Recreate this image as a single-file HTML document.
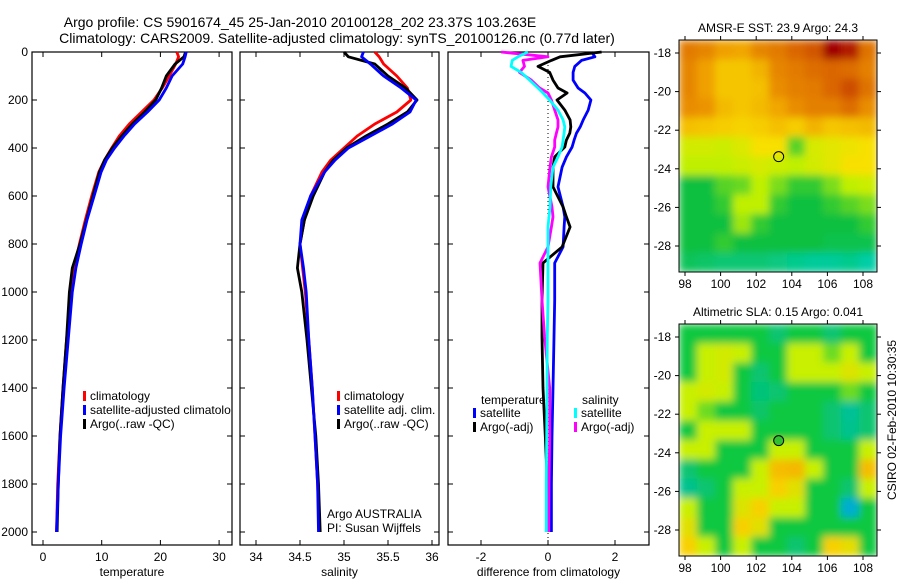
<!DOCTYPE html>
<html><head><meta charset="utf-8"><style>
body{margin:0;background:#fff;}
svg{display:block;font-family:"Liberation Sans",sans-serif;}
</style></head><body>
<svg id="fig" width="900" height="580" viewBox="0 0 900 580">
<defs>
<filter id="soft" x="0" y="0" width="1" height="1"><feGaussianBlur stdDeviation="4" edgeMode="duplicate"/></filter>
<clipPath id="clipSst"><rect x="679" y="40" width="198" height="232"/></clipPath>
<clipPath id="clipSla"><rect x="679" y="324" width="198" height="232"/></clipPath>
</defs>
<text x="300" y="27" font-size="14" text-anchor="middle">Argo profile: CS 5901674_45 25-Jan-2010 20100128_202 23.37S 103.263E</text>
<text x="337" y="43" font-size="14" text-anchor="middle">Climatology: CARS2009. Satellite-adjusted climatology: synTS_20100126.nc (0.77d later)</text>
<text x="778" y="32" font-size="12" text-anchor="middle">AMSR-E SST: 23.9 Argo: 24.3</text>
<text x="778" y="316" font-size="12" text-anchor="middle">Altimetric SLA: 0.15 Argo: 0.041</text>
<text transform="translate(896,420) rotate(-90)" font-size="12" text-anchor="middle">CSIRO 02-Feb-2010 10:30:35</text>
<g id="layer"></g>
</svg>
<script>
const depths=[0,20,50,100,150,200,250,300,350,400,450,500,600,700,800,900,1000,1200,1400,1600,1800,2000];
const tempClim=[22.8,23.1,22.6,21.5,20.3,18.9,16.8,14.7,13.0,11.7,10.5,9.5,8.3,7.2,6.2,5.3,4.8,4.0,3.4,2.9,2.5,2.3];
const tempSat=[24.4,24.2,23.8,22.0,21.0,19.8,17.8,15.6,13.8,12.2,10.8,9.9,8.7,7.5,6.5,5.6,5.0,4.3,3.6,3.0,2.6,2.3];
const tempArgo=[24.3,24.0,22.5,21.0,20.2,19.2,17.3,15.2,13.4,11.8,10.5,9.6,8.5,7.4,6.3,5.0,4.5,4.0,3.4,2.9,2.6,2.4];
const salClim=[35.35,35.4,35.45,35.6,35.72,35.76,35.6,35.35,35.15,35.0,34.85,34.75,34.62,34.55,34.5,34.53,34.56,34.6,34.64,34.67,34.7,34.72];
const salSat=[35.22,35.2,35.3,35.45,35.65,35.82,35.75,35.55,35.3,35.05,34.9,34.78,34.62,34.52,34.5,34.54,34.57,34.6,34.64,34.67,34.7,34.71];
const salArgo=[35.0,35.05,35.35,35.5,35.7,35.83,35.72,35.5,35.25,35.03,34.88,34.78,34.65,34.55,34.5,34.47,34.52,34.58,34.63,34.68,34.71,34.73];
const diffDepths=[0,20,35,60,85,117,150,171,200,242,283,312,338,367,396,437,480,562,646,687,729,812,879,1033,1187,1400,1600,1800,2000];
const diffTempSat=[1.3,1.4,1.0,0.8,0.75,0.75,0.9,1.1,1.28,1.2,1.05,0.96,0.85,0.78,0.72,0.55,0.42,0.3,0.45,0.5,0.48,0.45,0.2,0.2,0.18,0.15,0.12,0.1,0.1];
const diffTempArgo=[1.6,0.36,0.1,-0.3,0.05,0.15,0.3,0.57,0.27,0.5,0.66,0.68,0.65,0.55,0.5,0.2,0.15,0.15,0.45,0.55,0.66,0.42,-0.15,-0.18,-0.18,-0.15,-0.08,-0.02,-0.05];
const diffSalSat=[-0.6,-0.9,-1.07,-1.1,-0.8,-0.55,-0.3,-0.15,0.05,0.3,0.45,0.5,0.48,0.45,0.42,0.3,0.15,0.08,0.06,0.03,0.0,0.0,0.0,0.0,-0.02,-0.03,-0.04,-0.05,-0.05];
const diffSalArgo=[-1.4,0.0,-0.75,-0.7,-0.85,-0.5,-0.25,0.0,0.1,0.2,0.3,0.3,0.25,0.2,0.2,0.1,0.06,0.0,0.12,0.15,0.1,0.0,-0.24,-0.18,-0.1,0.05,0.05,0.03,0.02];
const depthTicks=[0,200,400,600,800,1000,1200,1400,1600,1800,2000];
const tempTicks=[0,10,20,30];
const salTicks=[34,34.5,35,35.5,36];
const salTickLabels=["34","34.5","35","35.5","36"];
const diffTicks=[-2,0,2];
const lonTicks=[98,100,102,104,106,108];
const latTicks=[-18,-20,-22,-24,-26,-28];
// SST field (rows lat -17.3 -> -29.3, cols lon 97.5 -> 108.8), 0 cyan .. 6 dark red
const sstGrid=[
[4.6,4.4,4,3.9,4.4,4.6,4.9,5.1,6,5.7,4.7],
[4.4,4,3.4,3.4,3.7,4.4,4.6,4.8,4.9,4.8,4.5],
[4.4,4,3.4,3.4,3.5,4.3,4.5,4.6,4.9,5.2,4.7],
[4.3,4.2,3.6,3.4,3.6,3.9,4.3,4.5,4.5,4.8,4.3],
[3.5,3.4,3.3,3.2,3.3,3.5,3.3,3.7,3.4,3.5,3.6],
[2.3,2.3,2.2,2.5,3,3,1.4,2.4,2.6,2.8,3],
[2,2,2,2.2,2.4,2.2,2,2.3,2.6,3,3],
[1,1,1.4,1.5,2,1.6,1.2,1.2,1.6,2,2.2],
[1,1,1.2,2,2,1.2,1,1,1.2,1.4,1.6],
[1,1,1,1.8,1.2,1,1,1,1,1,1.2],
[1,1,1.2,1,1,1,1,1,0.9,0.9,0.9],
[0.8,0.7,0.6,0.6,0.6,0.5,0.4,0.3,0.3,0.4,0.2]];
// SLA field, 0 blue .. 5 orange
const slaGrid=[
[2,2,2,2,2,1.5,2,2,1.5,2,2],
[2,3,3.2,3,2,2,3,3,2.5,3,2],
[2,3,3.2,2,1.5,2,3,3,3,3.4,3],
[3,3.2,3,2,1.4,1.5,2,2,2,2.5,2],
[3,2.5,2,2,1.6,2,2,2,1.5,1.1,1.5],
[2,3,3,3,2,2,2,2,1.5,1.2,1.5],
[3,3,2,2,2,3,3,2,2,2,3],
[1.5,2,2,2,3,4.4,4.5,3,2,2,4.4],
[1.2,1.5,2,3,3,4,3.5,2,2,1.5,3],
[3,2,2,3.4,4,3,3,2,2,0.4,2],
[3.5,2,2,4,3.5,2,2,2,2,2,2],
[4,3,2,3,2,2,1.5,2,4,3.6,2]];
const argoLon=103.263, argoLat=-23.37;

const NS='http://www.w3.org/2000/svg';
const layer=document.getElementById('layer');
function mk(tag,attrs,parent){const e=document.createElementNS(NS,tag);for(const k in attrs)e.setAttribute(k,attrs[k]);(parent||layer).appendChild(e);return e;}
const yD=d=>52+d*0.24;
function panel(name,x0,x1,xs,ticks,labels,xlabel,showY){
  const g=mk('g',{});
  
  
  const r=mk('rect',{x:x0,y:52,width:x1-x0,height:493,fill:'none',stroke:'#000','stroke-width':1.2},g);
  
  
  ticks.forEach((t,i)=>{const x=xs(t);
    mk('line',{x1:x,x2:x,y1:52,y2:57,stroke:'#000'},g);
    mk('line',{x1:x,x2:x,y1:540,y2:545,stroke:'#000'},g);
    const tx=mk('text',{x:x,y:561,'font-size':12,'text-anchor':'middle'},g);tx.textContent=labels[i];
    
    
  });
  depthTicks.forEach(d=>{const y=yD(d);
    mk('line',{x1:x0,x2:x0+5,y1:y,y2:y,stroke:'#000'},g);
    mk('line',{x1:x1-5,x2:x1,y1:y,y2:y,stroke:'#000'},g);
    if(showY){const t=mk('text',{x:28,y:y+4,'font-size':12,'text-anchor':'end'},g);t.textContent=d;
      
      }
  });
  const xl=mk('text',{x:(x0+x1)/2,y:576,'font-size':12,'text-anchor':'middle'},g);xl.textContent=xlabel;
  
  
  return g;
}
function line(g,ds,vals,xs,color,name){
  const pts=ds.map((d,i)=>xs(vals[i]).toFixed(1)+','+yD(d).toFixed(1)).join(' ');
  const p=mk('polyline',{points:pts,fill:'none',stroke:color,'stroke-width':2.8,'stroke-linejoin':'round'},g);
  
  
}
function legend(g,x,y,color,label,name){
  const m=mk('rect',{x:x,y:y-9,width:3,height:10,fill:color},g);
  
  
  const t=mk('text',{x:x+7,y:y,'font-size':12},g);t.textContent=label;
  
  
}
const xT=v=>43+v*5.87;
const gT=panel('temperature-panel',32,232,xT,tempTicks,tempTicks.map(String),'temperature',true);
line(gT,depths,tempClim,xT,'#f00','temp-climatology-line');
line(gT,depths,tempArgo,xT,'#000','temp-argo-line');
line(gT,depths,tempSat,xT,'#00f','temp-satellite-line');
legend(gT,83,400,'#f00','climatology','temp-legend-climatology');
legend(gT,83,414,'#00f','satellite-adjusted climatolo','temp-legend-satellite');
legend(gT,83,428,'#000','Argo(..raw -QC)','temp-legend-argo');
const xS=v=>256+(v-34)*88;
const gS=panel('salinity-panel',240,439,xS,salTicks,salTickLabels,'salinity',false);
line(gS,depths,salClim,xS,'#f00','sal-climatology-line');
line(gS,depths,salArgo,xS,'#000','sal-argo-line');
line(gS,depths,salSat,xS,'#00f','sal-satellite-line');
legend(gS,337,400,'#f00','climatology','sal-legend-climatology');
legend(gS,337,414,'#00f','satellite adj. clim.','sal-legend-satellite');
legend(gS,337,428,'#000','Argo(..raw -QC)','sal-legend-argo');
const a1=mk('text',{x:327,y:518,'font-size':12},gS);a1.textContent='Argo AUSTRALIA';


const a2=mk('text',{x:327,y:532,'font-size':12},gS);a2.textContent='PI: Susan Wijffels';


const xDf=v=>548+v*33.5;
const gD=panel('difference-panel',448,649,xDf,diffTicks,diffTicks.map(String),'difference from climatology',false);
mk('line',{x1:xDf(0),x2:xDf(0),y1:53,y2:544,stroke:'#000','stroke-dasharray':'1,3'},gD);
line(gD,diffDepths,diffTempSat,xDf,'#00f','diff-temp-satellite-line');
line(gD,diffDepths,diffTempArgo,xDf,'#000','diff-temp-argo-line');
line(gD,diffDepths,diffSalArgo,xDf,'#f0f','diff-sal-argo-line');
line(gD,diffDepths,diffSalSat,xDf,'#0ff','diff-sal-satellite-line');
const lt=mk('text',{x:481,y:404,'font-size':12},gD);lt.textContent='temperature';


const ls=mk('text',{x:582,y:404,'font-size':12},gD);ls.textContent='salinity';


legend(gD,473,417,'#00f','satellite','diff-legend-temp-satellite');
legend(gD,473,431,'#000','Argo(-adj)','diff-legend-temp-argo');
legend(gD,574,417,'#0ff','satellite','diff-legend-sal-satellite');
legend(gD,574,431,'#f0f','Argo(-adj)','diff-legend-sal-argo');
function lerpCmap(stops,v){v=Math.max(0,Math.min(stops.length-1,v));const i=Math.min(stops.length-2,Math.floor(v));const f=v-i;
  const a=stops[i],b=stops[i+1];return 'rgb('+a.map((c,k)=>Math.round(c+(b[k]-c)*f)).join(',')+')';}
const sstStops=[[0,208,192],[16,192,64],[192,240,0],[248,224,0],[240,160,0],[216,96,0],[160,0,0]];
const slaStops=[[0,160,240],[0,192,160],[16,200,64],[200,240,0],[248,208,0],[240,160,0]];
function map(name,top,grid,stops,filledCircle,clipId){
  const g=mk('g',{});
  
  
  const x0=679,x1=877,bot=top+232;
  const lat0=top+13;
  const xL=lon=>685+(lon-98)*17.8, yL=lat=>lat0+(-18-lat)*19.3;
  const cw=(x1-x0)/grid[0].length, ch=(bot-top)/grid.length;
  const clipG=mk('g',{'clip-path':'url(#'+clipId+')'},g);
  const field=mk('g',{filter:'url(#soft)'},clipG);
  grid.forEach((row,r)=>row.forEach((v,c)=>{
    const cell=mk('rect',{x:x0+c*cw,y:top+r*ch,width:cw+0.5,height:ch+0.5,fill:lerpCmap(stops,v)},field);
    
    
  }));
  mk('rect',{x:x0,y:top,width:x1-x0,height:bot-top,fill:'none',stroke:'#000','stroke-width':1},g);
  lonTicks.forEach(l=>{const x=xL(l);
    mk('line',{x1:x,x2:x,y1:top-4,y2:top,stroke:'#000'},g);
    mk('line',{x1:x,x2:x,y1:bot,y2:bot+4,stroke:'#000'},g);
    const t=mk('text',{x:x,y:bot+16,'font-size':12,'text-anchor':'middle'},g);t.textContent=l;
    
    });
  latTicks.forEach(l=>{const y=yL(l);
    mk('line',{x1:x0-4,x2:x0,y1:y,y2:y,stroke:'#000'},g);
    mk('line',{x1:x1,x2:x1+4,y1:y,y2:y,stroke:'#000'},g);
    const t=mk('text',{x:671,y:y+4,'font-size':12,'text-anchor':'end'},g);t.textContent=l;
    
    });
  const c=mk('circle',{cx:xL(argoLon),cy:yL(argoLat),r:5,fill:filledCircle?'#30c030':'none',stroke:'#000','stroke-width':1},g);
  
  
}
map('sst-map',40,sstGrid,sstStops,false,'clipSst');
map('sla-map',324,slaGrid,slaStops,true,'clipSla');
</script>
</body></html>
